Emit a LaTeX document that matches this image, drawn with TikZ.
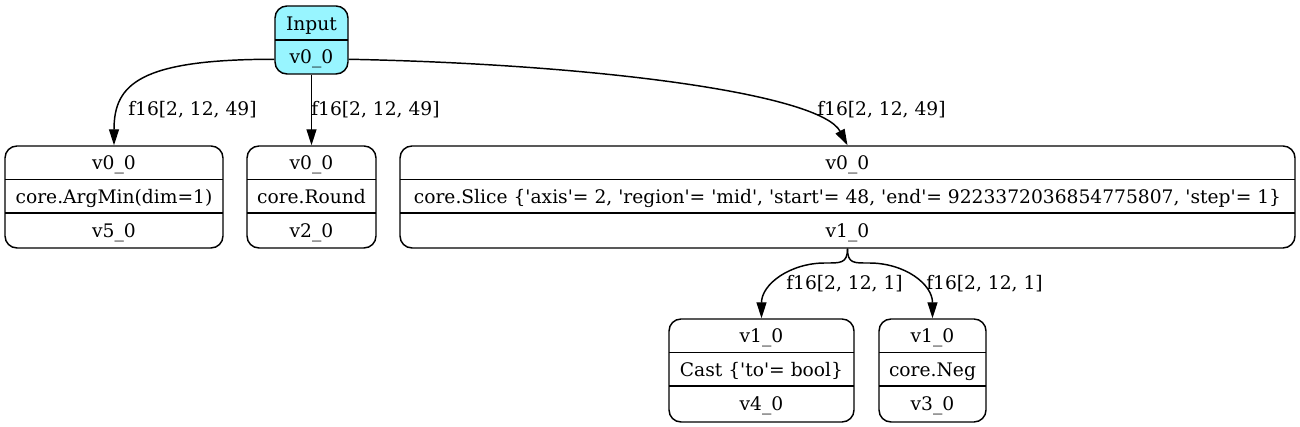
\documentclass[tikz,border=0pt]{standalone}
\usepackage{fontspec}
\setmainfont{DejaVu Serif}[Ligatures=TeXOff]
\usetikzlibrary{fit,arrows.meta}
\definecolor{inputcyan}{HTML}{98F5FF}
\begin{document}
\begin{tikzpicture}[x=0.75pt,y=-0.75pt,
  rec/.style={draw, rounded corners=9pt, inner sep=0pt, line width=1.1pt},
  txt/.style={anchor=base, inner sep=0pt, font=\fontsize{14}{17}\selectfont},
  lab/.style={anchor=base west, inner sep=0pt, font=\fontsize{14}{17}\selectfont},
  sepline/.style={line width=1.1pt},
  edge/.style={line width=1.1pt, -{Triangle[length=12pt,width=7.5pt]}}]
\useasboundingbox (0,0) rectangle (1300,427);

% Input
\node[rec, fill=inputcyan, fit={(275,6)(348,74)}] (input) {};
\draw[sepline] (275,40) -- (348,40);
\node[txt] (inA) at (311.5,30.5) {Input};
\node[txt] (inB) at (311.5,64) {v0\_0};

% ArgMin
\node[rec, fit={(5,146)(223,248)}] (argmin) {};
\draw[sepline] (5,179.5) -- (223,179.5);
\draw[sepline] (5,213) -- (223,213);
\node[txt] (amA) at (114,170) {v0\_0};
\node[txt] (amB) at (114,203.5) {core.ArgMin(dim=1)};
\node[txt] (amC) at (114,237.5) {v5\_0};

% Round
\node[rec, fit={(247,146)(376,248)}] (round) {};
\draw[sepline] (247,179.5) -- (376,179.5);
\draw[sepline] (247,213) -- (376,213);
\node[txt] (rdA) at (311.5,170) {v0\_0};
\node[txt] (rdB) at (311.5,203.5) {core.Round};
\node[txt] (rdC) at (311.5,237.5) {v2\_0};

% Slice
\node[rec, fit={(400,146)(1295,248)}] (slice) {};
\draw[sepline] (400,179.5) -- (1295,179.5);
\draw[sepline] (400,213) -- (1295,213);
\node[txt] (slA) at (847.5,170) {v0\_0};
\node[txt] (slB) at (847.5,203.5) {core.Slice \{'axis'= 2, 'region'= 'mid', 'start'= 48, 'end'= 9223372036854775807, 'step'= 1\}};
\node[txt] (slC) at (847.5,237.5) {v1\_0};

% Cast
\node[rec, fit={(669,319)(854,422)}] (cast) {};
\draw[sepline] (669,352.5) -- (854,352.5);
\draw[sepline] (669,386) -- (854,386);
\node[txt] (caA) at (761.5,343) {v1\_0};
\node[txt] (caB) at (761.5,376.5) {Cast \{'to'= bool\}};
\node[txt] (caC) at (761.5,410.5) {v4\_0};

% Neg
\node[rec, fit={(879,319)(986,422)}] (neg) {};
\draw[sepline] (879,352.5) -- (986,352.5);
\draw[sepline] (879,386) -- (986,386);
\node[txt] (ngA) at (932.5,343) {v1\_0};
\node[txt] (ngB) at (932.5,376.5) {core.Neg};
\node[txt] (ngC) at (932.5,410.5) {v3\_0};

% edges
\draw[edge] (inB -| input.west) .. controls +(-135,0) and +(0,-61) .. (argmin.north);
\draw[edge] (input.south) -- (round.north);
\draw[edge] (inB -| input.east) .. controls +(252,5) and +(-27,-51) .. (slice.north);
\coordinate (cL) at (825,263);
\coordinate (cR) at (869,263);
\draw[edge] (slice.south) .. controls +(0,15) and +(15,0) .. (cL) .. controls +(-35,0) and +(0,-34) .. (cast.north);
\draw[edge] (slice.south) .. controls +(0,15) and +(-15,0) .. (cR) .. controls +(36,0) and +(0,-34) .. (neg.north);

% labels
\node[lab] (l1) at (128,116) {f16[2, 12, 49]};
\node[lab] (l2) at (311,116) {f16[2, 12, 49]};
\node[lab] (l3) at (817,116) {f16[2, 12, 49]};
\node[lab] (l4) at (786,290) {f16[2, 12, 1]};
\node[lab] (l5) at (926,290) {f16[2, 12, 1]};
\end{tikzpicture}
\end{document}
